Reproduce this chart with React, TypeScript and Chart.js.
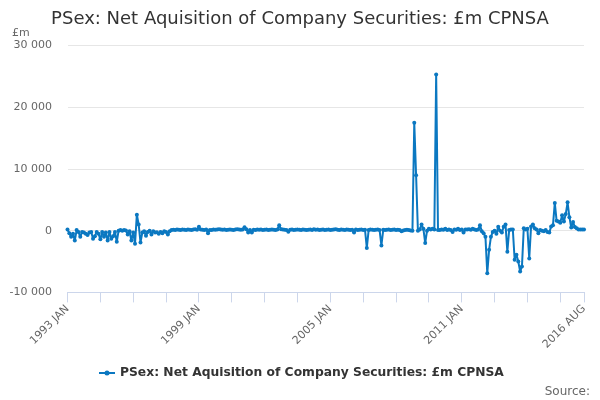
import React, { useEffect, useRef } from 'react';
import { Chart, registerables } from 'chart.js';

Chart.register(...registerables);

const TITLE = 'PSex: Net Aquisition of Company Securities: £m CPNSA';
const SERIES_NAME = 'PSex: Net Aquisition of Company Securities: £m CPNSA';
const UNIT_LABEL = '£m';
const SOURCE_LABEL = 'Source:';

const years = [1993, 1994, 1995, 1996, 1997, 1998, 1999, 2000, 2001, 2002, 2003, 2004,
  2005, 2006, 2007, 2008, 2009, 2010, 2011, 2012, 2013, 2014, 2015, 2016];
const monthNames = ['JAN', 'FEB', 'MAR', 'APR', 'MAY', 'JUN', 'JUL', 'AUG', 'SEP', 'OCT', 'NOV', 'DEC'];
const lastMonthOfLastYear = 'AUG';

// Monthly values, £m
const values1993to1998 = [
  200, -400, -1000, -500, -1600, 100, -200, -1000, -200, -300, -500, -700,
  -300, -200, -1300, -900, -200, -500, -1400, -200, -1000, -300, -1600, -200,
  -1300, -900, -200, -1800, 0, 100, 0, 100, 50, -600, -100, -1600,
  -300, -2100, 2600, 1000, -1900, -300, -100, -800, -200, 0, -600, -100,
  -300, -250, -500, -200, -400, -100, -200, -600, -100, 100, 150, 100,
  200, 150, 100, 200, 150, 100, 200, 150, 100, 200, 250, 150,
];
const values1999to2004 = [
  650, 200, 150, 100, 200, -400, 100, 100, 200, 150, 200, 250,
  200, 150, 200, 100, 150, 200, 150, 100, 200, 250, 200, 150,
  200, 550, 250, -300, 100, -300, 150, 100, 200, 150, 200, 100,
  150, 200, 100, 150, 200, 150, 100, 200, 900, 250, 200, 150,
  100, -150, 150, 200, 100, 150, 200, 150, 100, 200, 150, 100,
  150, 200, 100, 250, 150, 200, 100, 150, 200, 100, 150, 200,
];
const values2005to2010 = [
  100, 150, 200, 250, 150, 100, 200, 150, 100, 200, 150, 100,
  150, -300, 200, 100, 150, 200, 100, 150, -2800, 100, 200, 150,
  100, 150, 200, 100, -2400, 150, 100, 150, 200, 100, 150, 200,
  100, 150, 100, -100, 50, 100, 150, 100, 50, 0, 17500, 9000,
  0, 200, 1000, 300, -2000, 0, 300, 200, 300, 200, 25300, 100,
  100, 200, 150, 300, 100, 200, 100, -200, 200, 150, 300, 100,
];
const values2011to2016 = [
  200, -300, 200, 200, 250, 150, 300, 200, 100, 200, 900, -100,
  -400, -1000, -6900, -3100, -1000, -200, 0, -500, 650, 0, -300, 650,
  1000, -3400, 100, 200, 200, -4700, -3900, -5000, -6600, -5800, 400, 200,
  300, -4500, 700, 1000, 400, 200, -400, 100, 0, -100, 100, -200,
  -300, 700, 900, 4500, 1600, 1500, 1300, 2500, 1500, 2700, 4600, 2200,
  500, 1400, 600, 400, 200, 200, 200, 200,
];

const xTickLabels = ['1993 JAN', '1999 JAN', '2005 JAN', '2011 JAN', '2016 AUG'];
const xTickMarkStepMonths = 18;
const yTickValues = [-10000, 0, 10000, 20000, 30000];

const LINE_COLOR = '#0b78c1';
const FONT = '"DejaVu Sans", "Lucida Grande", Arial, sans-serif';

const categories: string[] = [];
years.forEach((y) => {
  for (const m of monthNames) {
    categories.push(`${y} ${m}`);
    if (y === years[years.length - 1] && m === lastMonthOfLastYear) break;
  }
});
const values = [...values1993to1998, ...values1999to2004, ...values2005to2010, ...values2011to2016];

function formatThousands(v: number): string {
  const s = Math.abs(v).toString().replace(/\B(?=(\d{3})+(?!\d))/g, ' ');
  return (v < 0 ? '-' : '') + s;
}

const decorPlugin = {
  id: 'decor',
  afterDraw(chart: any) {
    const ctx = chart.ctx as CanvasRenderingContext2D;
    ctx.save();
    // Title
    ctx.fillStyle = '#333333';
    ctx.font = `18px ${FONT}`;
    ctx.textAlign = 'center';
    ctx.textBaseline = 'alphabetic';
    ctx.fillText(TITLE, 300, 24);
    // Unit label
    ctx.fillStyle = '#666666';
    ctx.font = `11px ${FONT}`;
    ctx.textAlign = 'left';
    ctx.fillText(UNIT_LABEL, 12, 36);
    // Legend
    const ly = 373;
    ctx.strokeStyle = LINE_COLOR;
    ctx.lineWidth = 2;
    ctx.beginPath();
    ctx.moveTo(99, ly);
    ctx.lineTo(115, ly);
    ctx.stroke();
    ctx.fillStyle = LINE_COLOR;
    ctx.beginPath();
    ctx.arc(107, ly, 2.5, 0, Math.PI * 2);
    ctx.fill();
    ctx.fillStyle = '#333333';
    ctx.font = `bold 12.3px ${FONT}`;
    ctx.textAlign = 'left';
    ctx.textBaseline = 'middle';
    ctx.fillText(SERIES_NAME, 120, ly);
    // Source
    ctx.fillStyle = '#666666';
    ctx.font = `12px ${FONT}`;
    ctx.textAlign = 'right';
    ctx.textBaseline = 'alphabetic';
    ctx.fillText(SOURCE_LABEL, 590, 395);
    ctx.restore();
  },
};

export default function App() {
  const canvasRef = useRef<HTMLCanvasElement | null>(null);

  useEffect(() => {
    if (!canvasRef.current) return;
    const lastIndex = categories.length - 1;
    const isMark = (i: number) => i % xTickMarkStepMonths === 0 || i === lastIndex;
    const chart = new Chart(canvasRef.current, {
      type: 'line',
      data: {
        labels: categories,
        datasets: [
          {
            label: SERIES_NAME,
            data: values,
            borderColor: LINE_COLOR,
            backgroundColor: LINE_COLOR,
            borderWidth: 2,
            pointRadius: 2,
            pointBorderWidth: 0,
            pointBackgroundColor: LINE_COLOR,
            borderJoinStyle: 'round',
            tension: 0,
            fill: false,
          },
        ],
      },
      options: {
        responsive: false,
        animation: false,
        devicePixelRatio: 1,
        layout: { padding: { left: 0, right: 16, top: 45.6, bottom: 0 } },
        plugins: {
          legend: { display: false },
          title: { display: false },
          tooltip: { enabled: false },
        },
        scales: {
          x: {
            type: 'category',
            offset: false,
            grid: {
              display: true,
              drawOnChartArea: false,
              drawTicks: true,
              tickLength: 10,
              lineWidth: 1,
              color: (c: any) => (isMark(c.index) ? '#ccd6eb' : 'rgba(0,0,0,0)'),
            },
            border: { display: true, color: '#ccd6eb', width: 1 },
            ticks: {
              autoSkip: false,
              minRotation: 45,
              maxRotation: 45,
              padding: 0,
              labelOffset: 0,
              color: '#666666',
              font: { family: FONT, size: 11 },
              callback: (_v: any, i: number) =>
                xTickLabels.includes(categories[i]) ? categories[i] : '',
            },
            afterFit: (s: any) => {
              s.height = 107.6;
            },
          },
          y: {
            min: yTickValues[0],
            max: yTickValues[yTickValues.length - 1],
            afterBuildTicks: (s: any) => {
              s.ticks = yTickValues.map((v) => ({ value: v }));
            },
            grid: { color: '#e6e6e6', lineWidth: 1, drawTicks: false },
            border: { display: false },
            ticks: {
              padding: 15.5,
              color: '#666666',
              font: { family: FONT, size: 11 },
              callback: (v: any) => formatThousands(Number(v)),
            },
            afterFit: (s: any) => {
              s.width = 67.5;
            },
          },
        },
      },
      plugins: [decorPlugin],
    });
    return () => chart.destroy();
  }, []);

  return (
    <div style={{ position: 'absolute', left: 0, top: 0, width: 600, height: 400, background: '#ffffff' }}>
      <canvas ref={canvasRef} width={600} height={400} style={{ width: 600, height: 400, display: 'block' }} />
    </div>
  );
}
